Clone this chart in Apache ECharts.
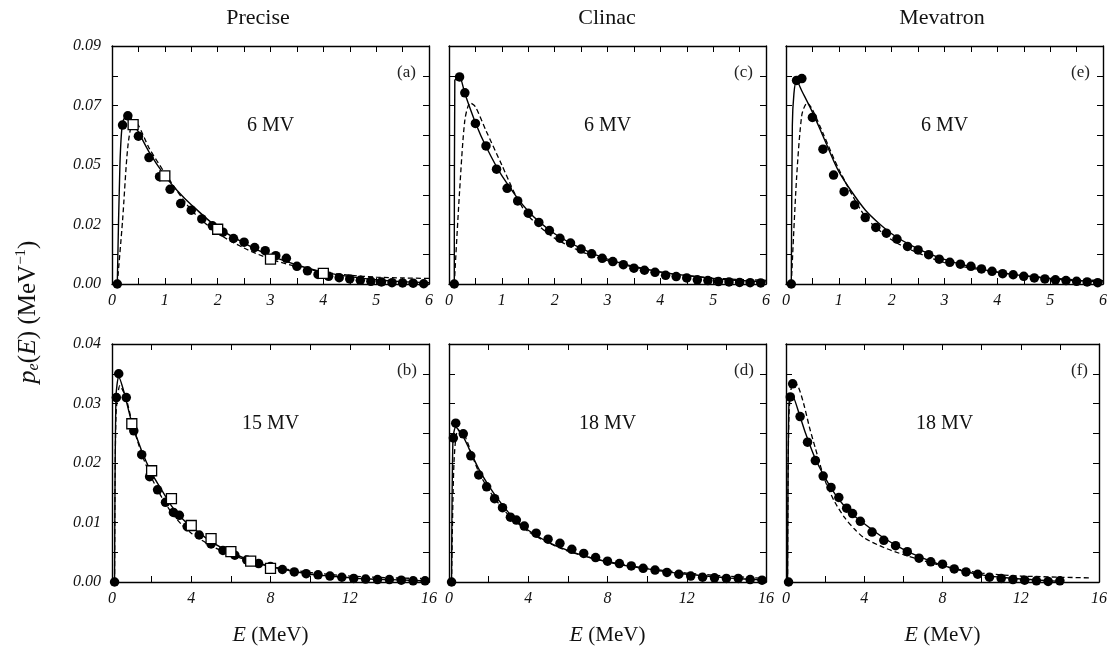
<!DOCTYPE html>
<html><head><meta charset="utf-8">
<script src="https://cdn.jsdelivr.net/npm/echarts@6/dist/echarts.min.js"></script>
<style>html,body{margin:0;padding:0;background:#fff}#c{width:1110px;height:652px}</style>
</head><body><div id="c"></div>
<script>
// ---------- DATA ----------
const columnTitles = ['Precise', 'Clinac', 'Mevatron'];
const panelTags = ['(a)', '(b)', '(c)', '(d)', '(e)', '(f)'];
const voltageLabels = ['6 MV', '15 MV', '6 MV', '18 MV', '6 MV', '18 MV'];
const topYTickLabels = ['0.00', '0.02', '0.05', '0.07', '0.09'];
const bottomYTickLabels = ['0.00', '0.01', '0.02', '0.03', '0.04'];

// circles energies (MeV)
const eCircTop = [0.1,0.2,0.3,0.5,0.7,0.9,1.1,1.3,1.5,1.7,1.9,2.1,2.3,2.5,2.7,2.9,3.1,3.3,3.5,3.7,3.9,4.1,4.3,4.5,4.7,4.9,5.1,5.3,5.5,5.7,5.9];
const eCircBot = [0.13,0.22,0.34,0.72,1.1,1.5,1.9,2.3,2.7,3.1,3.4,3.8,4.4,5.0,5.6,6.2,6.8,7.4,8.0,8.6,9.2,9.8,10.4,11.0,11.6,12.2,12.8,13.4,14.0,14.6,15.2,15.8];

// Panel (a) Precise 6 MV
const aCirc = [0,0.0601,0.0636,0.0559,0.0478,0.0406,0.0358,0.0304,0.0279,0.0246,0.0220,0.0196,0.0172,0.0158,0.0138,0.0126,0.0107,0.0097,0.0067,0.0050,0.0036,0.0029,0.0024,0.0019,0.0014,0.0010,0.0008,0.0005,0.0004,0.0003,0.0001];
const aSqE = [0.4,1,2,3,4];
const aSq = [0.0603,0.0409,0.0207,0.0094,0.0040];
const aSolidE = [0.1,0.15,0.2,0.3,0.4,0.5,0.7,1.0,1.25,1.5,2.0,2.5,3.0,3.5,4.0,4.5,5.0,5.5,6.0];
const aSolid = [0,0.045,0.061,0.0645,0.061,0.0575,0.050,0.041,0.035,0.030,0.0213,0.0155,0.0107,0.0072,0.0045,0.0028,0.0016,0.0009,0.0005];
const aDashE = [0.1,0.2,0.3,0.4,0.5,0.7,1.0,1.5,2.0,2.5,3.0,3.5,4.0,4.5,5.0,5.5,6.0];
const aDash = [0,0.024,0.052,0.0615,0.060,0.0515,0.042,0.028,0.0192,0.0136,0.0094,0.0066,0.0045,0.0033,0.0026,0.0023,0.0021];

// Panel (b) Precise 15 MV
const bCirc = [0,0.0310,0.0350,0.0310,0.0254,0.0214,0.0177,0.0155,0.0134,0.0117,0.0112,0.0093,0.0079,0.0064,0.0053,0.0045,0.0037,0.0031,0.0026,0.0021,0.0017,0.0014,0.0012,0.0010,0.0008,0.0006,0.0005,0.0004,0.0004,0.0003,0.0002,0.0002];
const bSqE = [1,2,3,4,5,6,7,8];
const bSq = [0.0266,0.0187,0.0140,0.0095,0.0073,0.0051,0.0035,0.0023];
const bSolidE = [0.13,0.2,0.34,0.6,1,1.5,2,2.5,3,3.5,4,5,6,7,8,9,10,11,12,13,14,15,15.6];
const bSolid = [0,0.031,0.0345,0.032,0.0268,0.022,0.0183,0.0155,0.0128,0.0108,0.0093,0.0068,0.0050,0.0036,0.0026,0.0019,0.0013,0.0010,0.0007,0.0005,0.0004,0.0003,0.0002];
const bDashE = [0.13,0.2,0.4,0.7,1,1.5,2,2.5,3,3.5,4,5,6,7,8,10,12,14,15.6];
const bDash = [0,0.028,0.033,0.031,0.027,0.0215,0.0175,0.0143,0.0117,0.0097,0.0082,0.0061,0.0046,0.0035,0.0026,0.0016,0.0010,0.0007,0.0006];

// Panel (c) Clinac 6 MV
const cCirc = [0,0.0783,0.0723,0.0607,0.0522,0.0434,0.0362,0.0314,0.0268,0.0233,0.0202,0.0173,0.0155,0.0132,0.0114,0.0097,0.0085,0.0073,0.0060,0.0052,0.0044,0.0033,0.0028,0.0023,0.0016,0.0013,0.0009,0.0008,0.0006,0.0005,0.0004];
const cSolidE = [0.1,0.11,0.2,0.3,0.5,0.7,1.0,1.5,2.0,2.5,3.0,3.5,4.0,4.5,5.0,5.5,6.0];
const cSolid = [0,0.077,0.0783,0.072,0.061,0.052,0.041,0.0275,0.019,0.0135,0.0094,0.0066,0.0046,0.0032,0.0021,0.0013,0.0008];
const cDashE = [0.1,0.2,0.3,0.4,0.5,0.7,1.0,1.25,1.5,2.0,2.5,3.0,3.5,4.0,4.5,5.0,5.5,6.0];
const cDash = [0,0.035,0.062,0.0685,0.067,0.058,0.045,0.034,0.0258,0.0173,0.0123,0.0088,0.0064,0.0045,0.0031,0.0023,0.0017,0.0014];

// Panel (d) Clinac 18 MV
const dCirc = [0,0.0242,0.0267,0.0249,0.0212,0.0180,0.0160,0.0140,0.0125,0.0109,0.0104,0.0094,0.0082,0.0072,0.0065,0.0055,0.0048,0.0041,0.0035,0.0031,0.0027,0.0023,0.0020,0.0016,0.0013,0.0010,0.0008,0.0007,0.0006,0.0006,0.0004,0.0003];
const dSolidE = [0.13,0.2,0.34,0.7,1,1.5,2,2.5,3,3.5,4,5,6,7,8,9,10,11,12,13,14,15,16];
const dSolid = [0,0.024,0.026,0.0245,0.0225,0.019,0.0162,0.0138,0.0117,0.0100,0.0087,0.0067,0.0053,0.0042,0.0034,0.0027,0.0022,0.0017,0.0013,0.0010,0.0007,0.0005,0.0003];
const dDashE = [0.13,0.25,0.45,0.8,1.2,1.5,2,2.5,3,4,5,6,7,8,10,12,14,16];
const dDash = [0,0.020,0.0255,0.0245,0.021,0.0185,0.0155,0.0132,0.0113,0.0085,0.0066,0.0052,0.0042,0.0034,0.0023,0.0015,0.0010,0.0006];

// Panel (e) Mevatron 6 MV
const eCirc = [0,0.0770,0.0777,0.0630,0.0510,0.0412,0.0349,0.0299,0.0251,0.0214,0.0192,0.0170,0.0142,0.0129,0.0111,0.0094,0.0082,0.0075,0.0067,0.0057,0.0048,0.0039,0.0035,0.0029,0.0023,0.0019,0.0016,0.0013,0.0010,0.0008,0.0005];
const eSolidE = [0.1,0.12,0.15,0.2,0.3,0.5,0.7,1.0,1.5,2.0,2.5,3.0,3.5,4.0,4.5,5.0,5.5,6.0];
const eSolid = [0,0.06,0.072,0.077,0.073,0.065,0.056,0.0425,0.028,0.019,0.0133,0.0093,0.0065,0.0045,0.0031,0.0021,0.0013,0.0008];
const eDashE = [0.1,0.2,0.3,0.4,0.5,0.7,1.0,1.5,2.0,2.5,3.0,3.5,4.0,4.5,5.0,5.5,6.0];
const eDash = [0,0.04,0.064,0.0685,0.066,0.057,0.0434,0.0255,0.0167,0.0117,0.0081,0.006,0.0045,0.0031,0.0023,0.0016,0.0013];

// Panel (f) Mevatron 18 MV
const fCirc = [0,0.0311,0.0333,0.0278,0.0235,0.0204,0.0178,0.0159,0.0142,0.0124,0.0115,0.0102,0.0084,0.0070,0.0061,0.0051,0.0040,0.0034,0.0030,0.0022,0.0017,0.0013,0.0008,0.0006,0.0004,0.0003,0.0002,0.0001,0.0002];
const fSolidE = [0.08,0.15,0.3,0.7,1,1.5,2,2.5,3,3.5,4,5,6,7,8,9,10,11,12,13,14];
const fSolid = [0,0.030,0.0315,0.028,0.025,0.0207,0.0175,0.0148,0.0127,0.0111,0.0098,0.0074,0.0055,0.0040,0.0028,0.0019,0.0012,0.0008,0.0005,0.0003,0.0001];
const fDashE = [0.08,0.15,0.35,0.6,0.9,1.2,1.5,2,2.5,3,3.5,4,5,6,7,8,9,10,11,12,13,14,15.5];
const fDash = [0,0.028,0.0335,0.033,0.030,0.026,0.0225,0.0170,0.0134,0.0108,0.0089,0.0074,0.0058,0.0046,0.0036,0.0027,0.0020,0.0015,0.0012,0.0010,0.0009,0.0008,0.0007];

// ---------- BUILD ----------
const zip = (xs, ys) => xs.map((x, i) => [x, ys[i]]);
const panels = [
  {col:0,row:0,circ:zip(eCircTop,aCirc),sq:zip(aSqE,aSq),solid:zip(aSolidE,aSolid),dash:zip(aDashE,aDash)},
  {col:0,row:1,circ:zip(eCircBot,bCirc),sq:zip(bSqE,bSq),solid:zip(bSolidE,bSolid),dash:zip(bDashE,bDash)},
  {col:1,row:0,circ:zip(eCircTop,cCirc),sq:null,solid:zip(cSolidE,cSolid),dash:zip(cDashE,cDash)},
  {col:1,row:1,circ:zip(eCircBot,dCirc),sq:null,solid:zip(dSolidE,dSolid),dash:zip(dDashE,dDash)},
  {col:2,row:0,circ:zip(eCircTop,eCirc),sq:null,solid:zip(eSolidE,eSolid),dash:zip(eDashE,eDash)},
  {col:2,row:1,circ:zip(eCircBot.slice(0,fCirc.length),fCirc),sq:null,solid:zip(fSolidE,fSolid),dash:zip(fDashE,fDash)}
];

const LEFTS = [112, 449, 786], W = 317;
const TOPS = [46, 344], H = 238;
const TITLE_X = [258, 607, 942];
const SERIF = '"Liberation Serif", "DejaVu Serif", serif';
const tickStyle = {show:true, inside:true, length:6, lineStyle:{color:'#000', width:1}};
const minorStyle = {show:true, splitNumber:2, length:6, lineStyle:{color:'#000', width:1}};
const axisLine = {show:true, onZero:false, lineStyle:{color:'#000', width:1.4}};
const labelFont = {fontFamily: SERIF, fontStyle:'italic', fontSize:16, color:'#111'};

const grid = [], xAxis = [], yAxis = [], series = [], graphic = [];
panels.forEach((p, i) => {
  const top = p.row === 0;
  grid.push({left: LEFTS[p.col], top: TOPS[p.row], width: W, height: H});
  const xMax = top ? 6 : 16, xInt = top ? 1 : 4;
  const yMax = top ? 0.09 : 0.04, yInt = top ? 0.0225 : 0.01;
  const yLabels = top ? topYTickLabels : bottomYTickLabels;
  xAxis.push({
    type:'value', gridIndex:i, position:'bottom', min:0, max:xMax, interval:xInt,
    axisLine, axisTick:tickStyle, minorTick:minorStyle, splitLine:{show:false},
    axisLabel:{...labelFont, margin:9, showMinLabel:true, showMaxLabel:true},
    name: top ? '' : '{i|E} (MeV)', nameLocation:'middle', nameGap:42,
    nameTextStyle:{fontFamily:SERIF, fontSize:21, color:'#111', rich:{i:{fontFamily:SERIF, fontStyle:'italic', fontSize:22, color:'#111'}}}
  });
  xAxis.push({
    type:'value', gridIndex:i, position:'top', min:0, max:xMax, interval:xInt,
    axisLine, axisTick:tickStyle, minorTick:minorStyle, splitLine:{show:false}, axisLabel:{show:false}
  });
  yAxis.push({
    type:'value', gridIndex:i, position:'left', min:0, max:yMax, interval:yInt,
    axisLine, axisTick:tickStyle, minorTick:minorStyle, splitLine:{show:false},
    axisLabel: p.col === 0 ? {...labelFont, margin:11, showMinLabel:true, showMaxLabel:true,
      formatter: v => yLabels[Math.round(v / yInt)]} : {show:false}
  });
  yAxis.push({
    type:'value', gridIndex:i, position:'right', min:0, max:yMax, interval:yInt,
    axisLine, axisTick:tickStyle, minorTick:minorStyle, splitLine:{show:false}, axisLabel:{show:false}
  });
  const xi = 2*i, yi = 2*i;
  series.push({type:'line', xAxisIndex:xi, yAxisIndex:yi, data:p.dash, smooth:0.25, showSymbol:false,
    lineStyle:{color:'#000', width:1.3, type:[5,3]}, z:2, animation:false});
  series.push({type:'line', xAxisIndex:xi, yAxisIndex:yi, data:p.solid, smooth:0.25, showSymbol:false,
    lineStyle:{color:'#000', width:1.4}, z:3, animation:false});
  series.push({type:'scatter', xAxisIndex:xi, yAxisIndex:yi, data:p.circ, symbol:'circle', symbolSize:9.5,
    itemStyle:{color:'#000', opacity:1}, z:4, animation:false});
  if (p.sq) series.push({type:'scatter', xAxisIndex:xi, yAxisIndex:yi, data:p.sq, symbol:'rect', symbolSize:10,
    itemStyle:{color:'#fff', borderColor:'#000', borderWidth:1.3, opacity:1}, z:5, animation:false});
  graphic.push({type:'text', left: LEFTS[p.col] + W - 32, top: TOPS[p.row] + 18,
    style:{text: panelTags[i], font: '17px ' + SERIF, fill:'#222'}});
  graphic.push({type:'text', x: LEFTS[p.col] + W/2, y: TOPS[p.row] + 80,
    style:{text: voltageLabels[i], font: '20px ' + SERIF, fill:'#111', align:'center', verticalAlign:'middle'}});
});

columnTitles.forEach((t, c) => {
  graphic.push({type:'text', x: TITLE_X[c], y: 18, style:{text:t, font:'22px ' + SERIF, fill:'#111', align:'center', verticalAlign:'middle'}});
});
graphic.push({type:'text', x: 28, y: 312, rotation: Math.PI/2,
  style:{text:'{i|p}{s|e}({i|E}) (MeV{u|−1})', align:'center', verticalAlign:'middle', font:'25px ' + SERIF, fill:'#111',
    rich:{i:{fontFamily:SERIF, fontStyle:'italic', fontSize:26, fill:'#111'},
          s:{fontFamily:SERIF, fontStyle:'italic', fontSize:16, fill:'#111', verticalAlign:'bottom', padding:[12,0,0,0]},
          u:{fontFamily:SERIF, fontSize:15, fill:'#111', verticalAlign:'top', padding:[0,0,12,0]}}}});

const chart = echarts.init(document.getElementById('c'), null, {renderer:'canvas'});
chart.setOption({animation:false, backgroundColor:'#fff', grid, xAxis, yAxis, series, graphic});
</script></body></html>
